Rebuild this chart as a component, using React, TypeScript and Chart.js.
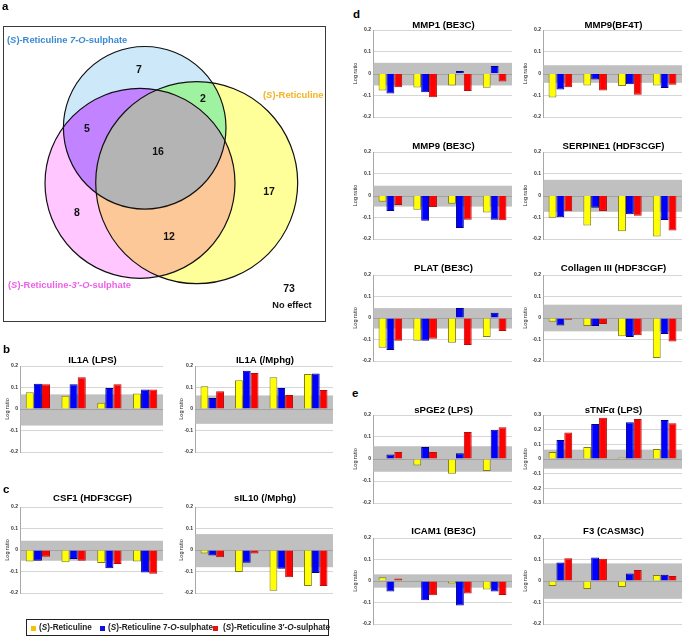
import React, { useEffect, useRef } from "react";
import { Chart, registerables } from "chart.js";
Chart.register(...registerables);

const FONT = "'Liberation Sans', Arial, Helvetica, sans-serif";

// ---------- shared categories / names ----------
const concentrations = ["3.7 μM", "11 μM", "33 μM", "100 μM"];
const compoundNames = ["(S)-Reticuline", "(S)-Reticuline 7-O-sulphate", "(S)-Reticuline 3′-O-sulphate"];

// ---------- panel a: Venn counts ----------
const vennRegionNames = ["7-O only", "7-O & Ret", "7-O & 3′-O", "all three", "Ret only", "3′-O only", "Ret & 3′-O", "no effect"];
const vennCounts = [7, 2, 5, 16, 17, 8, 12, 73];

// ---------- panel b ----------
const il1aLpsRet = [0.078, 0.062, 0.029, 0.072];
const il1aLps7O = [0.118, 0.115, 0.098, 0.091];
const il1aLps3O = [0.115, 0.148, 0.115, 0.091];
const il1aLpsBand = [-0.077, 0.068];

const il1aMphgRet = [0.106, 0.134, 0.148, 0.163];
const il1aMphg7O = [0.051, 0.178, 0.098, 0.165];
const il1aMphg3O = [0.083, 0.168, 0.065, 0.088];
const il1aMphgBand = [-0.069, 0.063];

// ---------- panel c ----------
const csf1Ret = [-0.053, -0.057, -0.06, -0.053];
const csf17O = [-0.05, -0.042, -0.085, -0.105];
const csf13O = [-0.031, -0.05, -0.065, -0.11];
const csf1Band = [-0.05, 0.043];

const sil10Ret = [-0.016, -0.102, -0.19, -0.167];
const sil107O = [-0.025, -0.059, -0.087, -0.107];
const sil103O = [-0.034, -0.016, -0.127, -0.167];
const sil10Band = [-0.08, 0.074];

// ---------- panel d ----------
const mmp1Ret = [-0.078, -0.064, -0.055, -0.066];
const mmp17O = [-0.092, -0.086, 0.011, 0.034];
const mmp13O = [-0.063, -0.109, -0.081, -0.037];
const mmp1Band = [-0.055, 0.049];

const mmp9bfRet = [-0.11, -0.055, -0.058, -0.055];
const mmp9bf7O = [-0.073, -0.028, -0.049, -0.067];
const mmp9bf3O = [-0.063, -0.078, -0.098, -0.052];
const mmp9bfBand = [-0.043, 0.038];

const mmp9beRet = [-0.029, -0.065, -0.038, -0.078];
const mmp9be7O = [-0.071, -0.116, -0.149, -0.111];
const mmp9be3O = [-0.044, -0.053, -0.111, -0.114];
const mmp9beBand = [-0.051, 0.045];

const serpineRet = [-0.102, -0.138, -0.164, -0.188];
const serpine7O = [-0.1, -0.056, -0.086, -0.113];
const serpine3O = [-0.072, -0.071, -0.093, -0.161];
const serpineBand = [-0.075, 0.072];

const platRet = [-0.138, -0.106, -0.115, -0.088];
const plat7O = [-0.149, -0.106, 0.046, 0.025];
const plat3O = [-0.106, -0.097, -0.125, -0.06];
const platBand = [-0.049, 0.046];

const colRet = [-0.017, -0.037, -0.085, -0.186];
const col7O = [-0.035, -0.037, -0.088, -0.074];
const col3O = [-0.008, -0.028, -0.08, -0.109];
const colBand = [-0.062, 0.062];

// ---------- panel e ----------
const pge2Ret = [0.003, -0.03, -0.067, -0.055];
const pge27O = [0.02, 0.055, 0.026, 0.133];
const pge23O = [0.032, 0.032, 0.123, 0.144];
const pge2Band = [-0.058, 0.058];

const tnfRet = [0.048, 0.082, 0.011, 0.068];
const tnf7O = [0.13, 0.239, 0.25, 0.266];
const tnf3O = [0.18, 0.282, 0.273, 0.243];
const tnfBand = [-0.066, 0.064];

const icamRet = [0.017, 0.003, -0.012, -0.04];
const icam7O = [-0.049, -0.089, -0.114, -0.049];
const icam3O = [0.012, -0.066, -0.058, -0.065];
const icamBand = [-0.031, 0.031];

const f3Ret = [-0.023, -0.037, -0.028, 0.028];
const f37O = [0.086, 0.109, 0.035, 0.029];
const f33O = [0.106, 0.103, 0.051, 0.023];
const f3Band = [-0.083, 0.082];

// ---------- layout ----------
type Panel = {
  title: string; ret: number[]; s7: number[]; s3: number[]; band: number[]; lim: number;
  L: number; R: number; T: number; B: number; tg: number; yt: number;
};

const panels: Panel[] = [
  { title: "IL1A (LPS)", ret: il1aLpsRet, s7: il1aLps7O, s3: il1aLps3O, band: il1aLpsBand, lim: 0.2, L: 20, R: 163, T: 366, B: 452, tg: 6, yt: 13 },
  { title: "IL1A (/Mphg)", ret: il1aMphgRet, s7: il1aMphg7O, s3: il1aMphg3O, band: il1aMphgBand, lim: 0.2, L: 195, R: 333, T: 366, B: 452, tg: 6, yt: 14 },
  { title: "CSF1 (HDF3CGF)", ret: csf1Ret, s7: csf17O, s3: csf13O, band: csf1Band, lim: 0.2, L: 20, R: 163, T: 507, B: 593, tg: 9, yt: 13 },
  { title: "sIL10 (/Mphg)", ret: sil10Ret, s7: sil107O, s3: sil103O, band: sil10Band, lim: 0.2, L: 195, R: 333, T: 507, B: 593, tg: 9, yt: 14 },
  { title: "MMP1 (BE3C)", ret: mmp1Ret, s7: mmp17O, s3: mmp13O, band: mmp1Band, lim: 0.2, L: 373, R: 512, T: 30, B: 117, tg: 5, yt: 18 },
  { title: "MMP9(BF4T)", ret: mmp9bfRet, s7: mmp9bf7O, s3: mmp9bf3O, band: mmp9bfBand, lim: 0.2, L: 543, R: 682, T: 30, B: 117, tg: 5, yt: 18 },
  { title: "MMP9 (BE3C)", ret: mmp9beRet, s7: mmp9be7O, s3: mmp9be3O, band: mmp9beBand, lim: 0.2, L: 373, R: 512, T: 152, B: 239, tg: 5.5, yt: 18 },
  { title: "SERPINE1 (HDF3CGF)", ret: serpineRet, s7: serpine7O, s3: serpine3O, band: serpineBand, lim: 0.2, L: 543, R: 682, T: 152, B: 239, tg: 5.5, yt: 18 },
  { title: "PLAT (BE3C)", ret: platRet, s7: plat7O, s3: plat3O, band: platBand, lim: 0.2, L: 373, R: 512, T: 275, B: 361, tg: 6.5, yt: 18 },
  { title: "Collagen III (HDF3CGF)", ret: colRet, s7: col7O, s3: col3O, band: colBand, lim: 0.2, L: 543, R: 682, T: 275, B: 361, tg: 6.5, yt: 18 },
  { title: "sPGE2 (LPS)", ret: pge2Ret, s7: pge27O, s3: pge23O, band: pge2Band, lim: 0.2, L: 373, R: 512, T: 415, B: 503, tg: 5, yt: 18 },
  { title: "sTNFα (LPS)", ret: tnfRet, s7: tnf7O, s3: tnf3O, band: tnfBand, lim: 0.3, L: 543, R: 682, T: 415, B: 503, tg: 5, yt: 18 },
  { title: "ICAM1 (BE3C)", ret: icamRet, s7: icam7O, s3: icam3O, band: icamBand, lim: 0.2, L: 373, R: 512, T: 538, B: 624, tg: 6.5, yt: 18 },
  { title: "F3 (CASM3C)", ret: f3Ret, s7: f37O, s3: f33O, band: f3Band, lim: 0.2, L: 543, R: 682, T: 538, B: 624, tg: 6.5, yt: 18 },
];

const AXW = 22;
const PADT = 20;
const XH = 14;
const YTITLE_SIZE = 5.5;

const bandPlugin = {
  id: "bandDecor",
  beforeDatasetsDraw(chart: any, _a: any, opts: any) {
    const { ctx, chartArea } = chart;
    const y = chart.scales.y;
    const top = y.getPixelForValue(opts.band[1]);
    const bot = y.getPixelForValue(opts.band[0]);
    ctx.save();
    ctx.fillStyle = "#c0c0c0";
    ctx.fillRect(chartArea.left + 0.5, top, chartArea.right - chartArea.left - 0.5, bot - top);
    const z = Math.round(y.getPixelForValue(0)) + 0.5;
    ctx.strokeStyle = "#a2a2a2";
    ctx.lineWidth = 1;
    ctx.beginPath();
    ctx.moveTo(chartArea.left, z);
    ctx.lineTo(chartArea.right, z);
    ctx.stroke();
    ctx.restore();
  },
  afterDraw(chart: any, _a: any, opts: any) {
    const { ctx, chartArea } = chart;
    ctx.save();
    ctx.font = `bold 9.6px ${FONT}`;
    ctx.fillStyle = "#000";
    ctx.textAlign = "center";
    ctx.textBaseline = "middle";
    ctx.fillText(opts.title, (chartArea.left + chartArea.right) / 2 + 1, chartArea.top - opts.gap);
    ctx.restore();
  },
};

function makeBarConfig(p: Panel): any {
  const yTitlePad = AXW - p.yt - (YTITLE_SIZE * 1.2) / 2;
  return {
    type: "bar",
    data: {
      labels: concentrations,
      datasets: [
        { label: compoundNames[0], data: p.ret, backgroundColor: "#ffff00", borderColor: "#7d7d1a", borderWidth: 1 },
        { label: compoundNames[1], data: p.s7, backgroundColor: "#0000ff", borderColor: "#00007d", borderWidth: 1 },
        { label: compoundNames[2], data: p.s3, backgroundColor: "#ff0000", borderColor: "#b01010", borderWidth: 1 },
      ],
    },
    options: {
      responsive: false,
      animation: false,
      layout: { padding: { top: PADT, right: 3, left: 0, bottom: 0 } },
      datasets: { bar: { categoryPercentage: 0.68, barPercentage: 1 } },
      plugins: {
        legend: { display: false },
        tooltip: { enabled: false },
        title: { display: false },
        bandDecor: { band: p.band, title: p.title, gap: p.tg },
      },
      scales: {
        x: {
          grid: { display: false },
          border: { display: false },
          ticks: { font: { family: FONT, size: 5.5, weight: "bold" }, color: "#333", padding: 5.5, maxRotation: 0, autoSkip: false },
          afterFit: (s: any) => { s.height = XH; },
        },
        y: {
          min: -p.lim,
          max: p.lim,
          ticks: {
            stepSize: 0.1,
            font: { family: FONT, size: 5, weight: "bold" },
            color: "#333",
            padding: 2,
            callback: (v: number) => {
              const r = Math.round(v * 10) / 10;
              return r === 0 ? "0" : String(r);
            },
          },
          grid: { color: "#d6d6d6", lineWidth: 1, drawTicks: false },
          border: { display: true, color: "#a8a8a8" },
          title: {
            display: true,
            text: "Log ratio",
            color: "#222",
            font: { family: FONT, size: YTITLE_SIZE },
            padding: { top: yTitlePad, bottom: 0 },
          },
          afterFit: (s: any) => { s.width = AXW; },
        },
      },
    },
    plugins: [bandPlugin],
  };
}

function BarPanel({ p }: { p: Panel }) {
  const ref = useRef<HTMLCanvasElement>(null);
  useEffect(() => {
    const chart = new Chart(ref.current as HTMLCanvasElement, makeBarConfig(p));
    return () => chart.destroy();
  }, []);
  const w = p.R - p.L + AXW + 3;
  const h = p.B - p.T + PADT + XH;
  return (
    <canvas
      ref={ref}
      width={w}
      height={h}
      style={{ position: "absolute", left: p.L - AXW, top: p.T - PADT, width: w, height: h }}
    />
  );
}

// ---------- Venn layout (not data) ----------
const vennCircleLayout = [
  { cx: 144.7, cy: 127.8, r: 81.3, fill: "#cde9f9" }, // 7-O-sulphate
  { cx: 196.7, cy: 182.7, r: 101, fill: "#ffff99" }, // (S)-Reticuline
  { cx: 140, cy: 183.3, r: 95, fill: "#ffc6ff" }, // 3'-O-sulphate
];
const vennPairFills = { ab: "#9ff29f", ac: "#c183ff", bc: "#fdc898", abc: "#b4b4b4" };
const vennCountPos = [
  [139, 70], [203, 99], [87, 129], [158, 152], [269, 192], [77, 213], [169, 237], [289, 289],
];
const vennLabelLayout = [
  { x: 7, y: 40, color: "#3a8ad2", segs: [["(", 0], ["S", 1], [")-Reticuline ", 0], ["7-O", 1], ["-sulphate", 0]] },
  { x: 263, y: 95, color: "#f5b21f", segs: [["(", 0], ["S", 1], [")-Reticuline", 0]] },
  { x: 8, y: 285, color: "#ee5fe8", segs: [["(", 0], ["S", 1], [")-Reticuline-", 0], ["3′-O", 1], ["-sulphate", 0]] },
];

const vennPlugin = {
  id: "vennDiagram",
  beforeDatasetsDraw(chart: any) {
    const { ctx } = chart;
    const xs = chart.scales.x;
    const ys = chart.scales.y;
    const C = vennCircleLayout.map((c) => ({
      x: xs.getPixelForValue(c.cx),
      y: ys.getPixelForValue(c.cy),
      r: xs.getPixelForValue(c.cx + c.r) - xs.getPixelForValue(c.cx),
    }));
    const path = (c: any) => {
      ctx.beginPath();
      ctx.arc(c.x, c.y, c.r, 0, Math.PI * 2);
      ctx.closePath();
    };
    const fillIn = (clips: number[], target: number, color: string) => {
      ctx.save();
      clips.forEach((i) => { path(C[i]); ctx.clip(); });
      path(C[target]);
      ctx.fillStyle = color;
      ctx.fill();
      ctx.restore();
    };
    fillIn([], 0, vennCircleLayout[0].fill);
    fillIn([], 1, vennCircleLayout[1].fill);
    fillIn([], 2, vennCircleLayout[2].fill);
    fillIn([0], 1, vennPairFills.ab);
    fillIn([0], 2, vennPairFills.ac);
    fillIn([1], 2, vennPairFills.bc);
    fillIn([0, 1], 2, vennPairFills.abc);
    ctx.save();
    ctx.lineWidth = 1.2;
    ctx.strokeStyle = "#111";
    C.forEach((c) => { path(c); ctx.stroke(); });
    ctx.restore();
  },
  afterDatasetsDraw(chart: any) {
    const { ctx } = chart;
    const meta = chart.getDatasetMeta(0);
    ctx.save();
    ctx.fillStyle = "#111";
    ctx.textAlign = "center";
    ctx.textBaseline = "middle";
    ctx.font = `bold 10.5px ${FONT}`;
    meta.data.forEach((pt: any, i: number) => {
      ctx.fillText(String(vennCounts[i]), pt.x, pt.y);
    });
    const last = meta.data[meta.data.length - 1];
    ctx.font = `bold 9.2px ${FONT}`;
    ctx.fillText("No effect", last.x + 3, last.y + 16);
    // set labels
    ctx.textAlign = "left";
    vennLabelLayout.forEach((lab) => {
      let x = chart.scales.x.getPixelForValue(lab.x);
      const y = chart.scales.y.getPixelForValue(lab.y);
      ctx.fillStyle = lab.color;
      lab.segs.forEach(([t, it]: any) => {
        ctx.font = `${it ? "italic " : ""}bold 9.4px ${FONT}`;
        ctx.fillText(t, x, y);
        x += ctx.measureText(t).width;
      });
    });
    ctx.restore();
  },
};

function Venn() {
  const ref = useRef<HTMLCanvasElement>(null);
  useEffect(() => {
    const chart = new Chart(ref.current as HTMLCanvasElement, {
      type: "scatter",
      data: {
        datasets: [
          {
            label: "Venn regions",
            data: vennCounts.map((c, i) => ({ x: vennCountPos[i][0], y: vennCountPos[i][1], region: vennRegionNames[i], count: c })) as any,
            pointRadius: 0,
            pointHoverRadius: 0,
          },
        ],
      },
      options: {
        responsive: false,
        animation: false,
        layout: { padding: 0 },
        scales: {
          x: { type: "linear", min: 0, max: 335, display: false },
          y: { type: "linear", min: 0, max: 330, reverse: true, display: false },
        },
        plugins: { legend: { display: false }, tooltip: { enabled: false } },
      } as any,
      plugins: [vennPlugin as any],
    });
    return () => chart.destroy();
  }, []);
  return <canvas ref={ref} width={335} height={330} style={{ position: "absolute", left: 0, top: 0, width: 335, height: 330 }} />;
}

const letterStyle = (left: number, top: number): React.CSSProperties => ({
  position: "absolute", left, top, font: `bold 11.5px ${FONT}`, lineHeight: "11px", color: "#000",
});

const legendColors = ["#f6c200", "#1010e6", "#ea1010"];
const legendLayout = [
  { sq: 31, tx: 39 },
  { sq: 100, tx: 108 },
  { sq: 213, tx: 223 },
];

function LegendText({ name }: { name: string }) {
  // italicise S and O as in the original
  const parts = name.split(/(S|O)(?=[)\-])/);
  return (
    <>
      {parts.map((t, i) =>
        t === "S" || t === "O" ? <i key={i}>{t}</i> : <span key={i}>{t}</span>
      )}
    </>
  );
}

export default function App() {
  return (
    <div style={{ position: "absolute", left: 0, top: 0, width: 685, height: 639, background: "#fff", overflow: "hidden" }}>
      <div style={{ position: "absolute", left: 3, top: 26, width: 321, height: 294, border: "1.6px solid #3a3a3a" }} />
      <Venn />
      <div style={letterStyle(2, 0.5)}>a</div>
      <div style={letterStyle(3, 343.5)}>b</div>
      <div style={letterStyle(3, 483.5)}>c</div>
      <div style={letterStyle(353, 8.5)}>d</div>
      <div style={letterStyle(352, 387.5)}>e</div>
      {panels.map((p, i) => (
        <BarPanel key={i} p={p} />
      ))}
      <div style={{ position: "absolute", left: 26, top: 619, width: 301, height: 15, border: "1.5px solid #222" }} />
      {legendLayout.map((l, i) => (
        <React.Fragment key={i}>
          <div style={{ position: "absolute", left: l.sq, top: 625.5, width: 5, height: 5, background: legendColors[i] }} />
          <div style={{ position: "absolute", left: l.tx, top: 623, font: `bold 8.2px ${FONT}`, lineHeight: "10px", color: "#222", whiteSpace: "nowrap" }}>
            <LegendText name={compoundNames[i]} />
          </div>
        </React.Fragment>
      ))}
    </div>
  );
}
